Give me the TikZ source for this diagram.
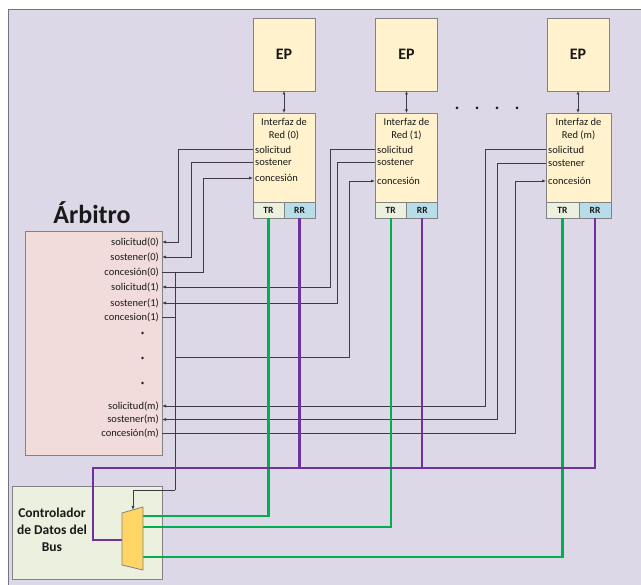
\documentclass[tikz,border=0pt]{standalone}
\usepackage{fontspec}
\setmainfont{Carlito}
\usetikzlibrary{arrows.meta}

\definecolor{bg}{RGB}{221,216,232}
\definecolor{frameln}{RGB}{118,114,132}
\definecolor{pebox}{RGB}{255,242,204}
\definecolor{boxln}{RGB}{130,130,130}
\definecolor{trfill}{RGB}{235,241,222}
\definecolor{rrfill}{RGB}{183,222,232}
\definecolor{arbfill}{RGB}{242,220,219}
\definecolor{ctlfill}{RGB}{235,241,222}
\definecolor{muxfill}{RGB}{255,214,102}
\definecolor{busgreen}{RGB}{0,176,80}
\definecolor{buspurple}{RGB}{112,48,160}
\definecolor{sigln}{RGB}{60,60,68}
\definecolor{txt}{RGB}{25,25,25}

\tikzset{
  box/.style={draw=boxln, line width=0.8pt, inner sep=0pt, outer sep=0pt},
  epbox/.style={box, fill=pebox, minimum width=62pt, minimum height=73pt,
    text=txt, font=\fontsize{16}{18}\selectfont\bfseries},
  ifbody/.style={box, fill=pebox, minimum width=62pt, minimum height=89pt},
  trport/.style={box, fill=trfill, minimum width=31pt, minimum height=16pt,
    text=txt, font=\fontsize{9.5}{10}\selectfont\bfseries},
  rrport/.style={trport, fill=rrfill},
  iftitle/.style={align=center, text=txt, font=\fontsize{10.5}{13}\selectfont, inner sep=0pt},
  iflbl/.style={anchor=west, text=txt, font=\fontsize{10.5}{12}\selectfont, inner xsep=2pt, inner ysep=0pt},
  arblbl/.style={anchor=east, text=txt, font=\fontsize{10.5}{11}\selectfont, inner xsep=3pt, inner ysep=0pt},
  sig/.style={draw=sigln, line width=0.75pt},
  sigarr/.style={sig, -{Latex[length=4pt,width=3.2pt]}},
  dblarr/.style={sig, {Latex[length=3.5pt,width=3pt]}-{Latex[length=3.5pt,width=3pt]}},
  greenbus/.style={draw=busgreen, line width=2.2pt},
  purplebus/.style={draw=buspurple, line width=2.2pt},
}

\begin{document}
\begin{tikzpicture}[x=1pt,y=-1pt]
\useasboundingbox (0,0) rectangle (641,585);
\clip (0,0) rectangle (641,585);
\fill[white] (0,0) rectangle (641,585);
\draw[frameln, line width=1pt, fill=bg] (8,10) rectangle (660,600);

% processing elements
\node[epbox] (ep0) at (284,54.5) {EP};
\node[epbox] (ep1) at (406.5,54.5) {EP};
\node[epbox] (epm) at (578,54.5) {EP};

% network interfaces
\node[ifbody] (if0) at (284,157.5) {};
\node[ifbody] (if1) at (406.5,157.5) {};
\node[ifbody, minimum width=65pt] (ifm) at (578.5,157.5) {};

\node[trport] (tr0) at (268.5,210) {TR};
\node[rrport] (rr0) at (299.5,210) {RR};
\node[trport] (tr1) at (390.75,210) {TR};
\node[rrport] (rr1) at (422.25,210) {RR};
\node[trport, minimum width=33pt] (trm) at (562.5,210) {TR};
\node[rrport, minimum width=32pt] (rrm) at (595,210) {RR};

\node[iftitle] (ift0) at (284,129.5) {Interfaz de\\Red (0)};
\node[iftitle] (ift1) at (406.5,129.5) {Interfaz de\\Red (1)};
\node[iftitle] (iftm) at (578.5,129.5) {Interfaz de\\Red (m)};

\node[iflbl] (is0) at (253,149.5) {solicitud};
\node[iflbl] (io0) at (253,162) {sostener};
\node[iflbl] (ic0) at (253,178) {concesión};
\node[iflbl] (is1) at (375,149.5) {solicitud};
\node[iflbl] (io1) at (375,162) {sostener};
\node[iflbl] (ic1) at (375,181) {concesión};
\node[iflbl] (ism) at (546,149.5) {solicitud};
\node[iflbl] (iom) at (546,163) {sostener};
\node[iflbl] (icm) at (546,181) {concesión};

\draw[dblarr] (ep0.south) -- (if0.north);
\draw[dblarr] (ep1.south) -- (if1.north);
\draw[dblarr] (epm.south) -- (epm.south |- ifm.north);

% ellipsis between interfaces
\foreach \xd in {457,477,497,517}
  \fill[txt] (\xd,108) circle[radius=1.5pt];

% arbiter
\node[text=txt, font=\fontsize{26}{30}\selectfont\bfseries, inner sep=0pt] (arbt) at (92,213) {Árbitro};
\node[box, fill=arbfill, minimum width=137pt, minimum height=224pt] (arb) at (93.5,343) {};

\node[arblbl] (as0) at (162,242) {solicitud(0)};
\node[arblbl] (ao0) at (162,257) {sostener(0)};
\node[arblbl] (ac0) at (162,272) {concesión(0)};
\node[arblbl] (as1) at (162,287) {solicitud(1)};
\node[arblbl] (ao1) at (162,303) {sostener(1)};
\node[arblbl] (ac1) at (162,317) {concesion(1)};
\node[arblbl] (asm) at (162,406) {solicitud(m)};
\node[arblbl] (aom) at (162,419.5) {sostener(m)};
\node[arblbl] (acm) at (162,433) {concesión(m)};
\foreach \yd in {333,358,383}
  \fill[txt] (142.5,\yd) circle[radius=1.3pt];

% bus data controller
\node[box, fill=ctlfill, minimum width=150pt, minimum height=93pt] (ctl) at (87,532.5) {};
\node[align=center, text=txt, font=\fontsize{13.5}{17}\selectfont\bfseries, inner sep=0pt] (ctlt) at (52,530) {Controlador\\de Datos del\\Bus};

% mux ports
\coordinate (msel) at (133,510);
\coordinate (min) at (122,540);
\coordinate (mg0) at (143,516);
\coordinate (mg1) at (143,527);
\coordinate (mgm) at (143,557);

% request / hold / grant signals
\draw[sigarr] (is0.west) -| ([xshift=16pt]as0.east) -- (as0.east);
\draw[sigarr] (io0.west) -| ([xshift=29pt]ao0.east) -- (ao0.east);
\draw[sigarr] (ac0.east) -| ([xshift=-50pt]ic0.west) -- (ic0.west);

\draw[sigarr] (is1.west) -| ([xshift=168pt]as1.east) -- (as1.east);
\draw[sigarr] (io1.west) -| ([xshift=175pt]ao1.east) -- (ao1.east);

\draw[sigarr] (ism.west) -| ([xshift=323pt]asm.east) -- (asm.east);
\draw[sigarr] (iom.west) -| ([xshift=335pt]aom.east) -- (aom.east);
\draw[sigarr] (acm.east) -| ([xshift=-31pt]icm.west) -- (icm.west);

% grant lines gathered into the selector of the controller
\coordinate (bustop) at ([xshift=13pt]ac0.east);
\coordinate (tap1) at (175,357);
\coordinate (busbot) at (175,490);
\draw[sig] (ac1.east) -- ([xshift=13pt]ac1.east);
\draw[sigarr] (tap1) -| ([xshift=-26pt]ic1.west) -- (ic1.west);
\draw[sig] (bustop) -- (busbot);
\draw[sigarr] (busbot) -| (msel);

% transmit (green) and receive (purple) data lines
\draw[greenbus] (tr0.south) |- (mg0);
\draw[greenbus] (tr1.south) |- (mg1);
\draw[greenbus] (trm.south) |- (mgm);

\draw[purplebus] (rrm.south) |- (93,468) |- (min);
\draw[purplebus] (rr0.south) -- (rr0.south |- 0,468);
\draw[purplebus] (rr1.south) -- (rr1.south |- 0,468);

% multiplexer
\draw[draw=boxln, line width=0.8pt, fill=muxfill] (122,513) -- (143,507) -- (143,570) -- (122,565) -- cycle;
\end{tikzpicture}
\end{document}
